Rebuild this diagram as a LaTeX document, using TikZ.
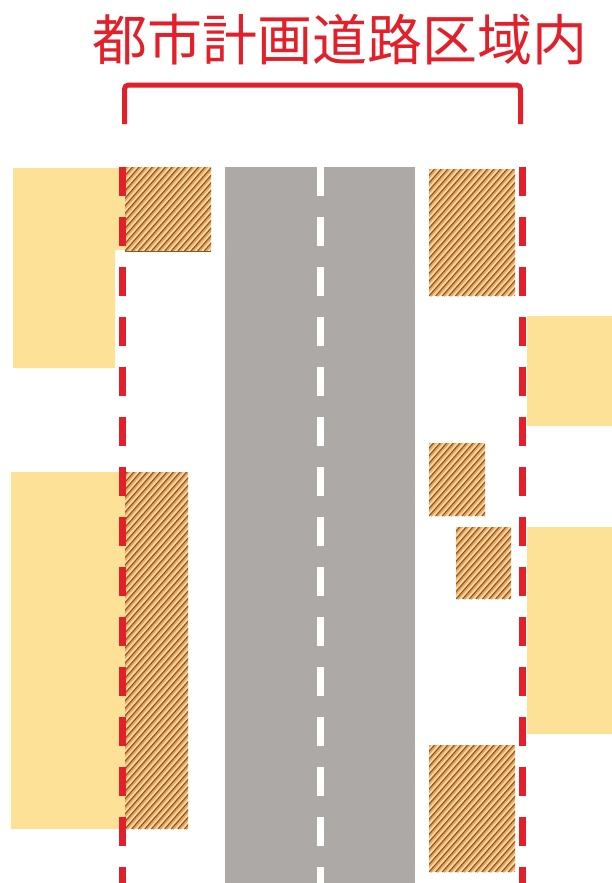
\documentclass[tikz,border=0pt]{standalone}
\usepackage{fontspec}
\newfontfamily\cjk{Noto Sans CJK JP}
\definecolor{redline}{HTML}{E3202A}
\definecolor{yellowzone}{HTML}{FDE196}
\definecolor{roadgray}{HTML}{ACA9A6}
\definecolor{hatchbase}{HTML}{FAD7A0}
\definecolor{hatchmid}{HTML}{E9A257}
\definecolor{hatchdark}{HTML}{86572B}
\newcommand{\hatchbox}[4]{%
  \fill[hatchbase] (#1,#2) rectangle (#3,#4);
  \begin{scope}
    \clip (#1,#2) rectangle (#3,#4);
    \foreach \k in {-70,...,30} {
      \draw[hatchmid, line width=2.4pt] (#1+1.5+6.6*\k,#4) -- ++(420,-480);
      \draw[hatchdark, line width=1.1pt] (#1+6.6*\k,#4) -- ++(420,-480);
    }
  \end{scope}
}
\begin{document}
\begin{tikzpicture}[x=1pt,y=-1pt,
  reddash/.style={redline, line width=7.5pt, dash pattern=on 29pt off 21pt},
  whitedash/.style={white, line width=7pt, dash pattern=on 29pt off 21pt},
  titletext/.style={text=redline, font=\cjk\fontsize{55}{55}\selectfont, inner sep=0pt, anchor=center},
  bracket/.style={redline, line width=5pt, rounded corners=4pt},
  edgeline/.style={hatchdark, line width=1pt}]
\useasboundingbox (0,0) rectangle (612,883);
\fill[white] (0,0) rectangle (612,883);
% yellow zones
\fill[yellowzone] (13,168) -- (126,168) -- (126,250) -- (115,250) -- (115,368) -- (13,368) -- cycle;
\fill[yellowzone] (11,472) rectangle (126,829);
\fill[yellowzone] (527,316) rectangle (612,426);
\fill[yellowzone] (527,527) rectangle (612,734);
% road
\fill[roadgray] (225,167) rectangle (415,883);
% hatched areas
\hatchbox{125}{167}{211}{251}
\hatchbox{125}{472}{188}{829}
\hatchbox{429}{169}{515}{296}
\hatchbox{429}{443}{485}{516}
\hatchbox{456}{527}{511}{599}
\hatchbox{429}{745}{515}{872}
\coordinate (el) at (125,251.5); \coordinate (er) at (211,251.5);
\draw[edgeline] (el) -- (er);
% dashed lines
\coordinate (lt) at (122.5,167); \coordinate (lb) at (122.5,883);
\coordinate (rt) at (522.5,167); \coordinate (rb) at (522.5,883);
\coordinate (ct) at (320.5,167); \coordinate (cb) at (320.5,883);
\draw[reddash] (lt) -- (lb);
\draw[reddash] (rt) -- (rb);
\draw[whitedash] (ct) -- (cb);
% bracket
\coordinate (bl) at (124.5,124); \coordinate (bl2) at (124.5,85);
\coordinate (br) at (520.5,124); \coordinate (br2) at (520.5,85);
\draw[bracket] (bl) -- (bl2) -- (br2) -- (br);
% title
\node[titletext] (title) at (340,40) {都市計画道路区域内};
\end{tikzpicture}
\end{document}
